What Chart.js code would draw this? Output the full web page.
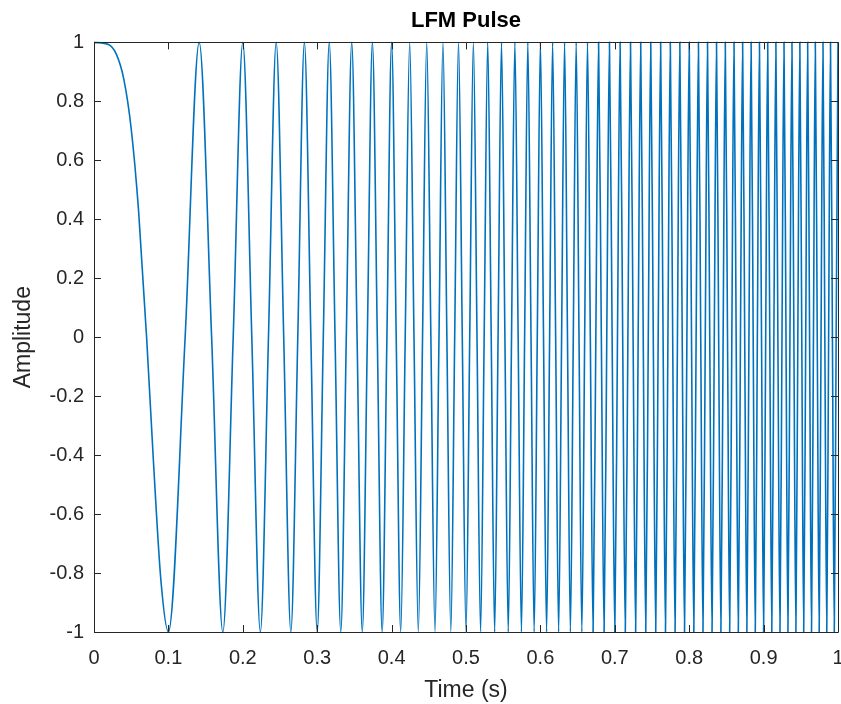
<!DOCTYPE html>
<html>
<head>
<meta charset="utf-8">
<script src="https://cdn.jsdelivr.net/npm/chart.js@4/dist/chart.umd.min.js"></script>
<style>
  html, body { margin: 0; padding: 0; background: #ffffff; }
  #wrap { width: 841px; height: 704px; }
</style>
</head>
<body>
<div id="wrap"><canvas id="chart" width="841" height="704"></canvas></div>
<script>
// LFM pulse: times (s) at which the waveform reaches +1, -1 and crosses 0
const crestTimes = [0, 0.1414, 0.2, 0.2449, 0.2828, 0.3162, 0.3464, 0.3742, 0.4, 0.4243,
  0.4472, 0.4690, 0.4899, 0.5099, 0.5292, 0.5477, 0.5657, 0.5831, 0.6, 0.6164,
  0.6325, 0.6481, 0.6633, 0.6782, 0.6928, 0.7071, 0.7211, 0.7348, 0.7483, 0.7616,
  0.7746, 0.7874, 0.8, 0.8124, 0.8246, 0.8367, 0.8485, 0.8602, 0.8718, 0.8832,
  0.8944, 0.9055, 0.9165, 0.9274, 0.9381, 0.9487, 0.9592, 0.9695, 0.9798, 0.9899, 1.0];

const troughTimes = [0.1, 0.1732, 0.2236, 0.2646, 0.3, 0.3317, 0.3606, 0.3873, 0.4123, 0.4359,
  0.4583, 0.4796, 0.5, 0.5196, 0.5385, 0.5568, 0.5745, 0.5916, 0.6083, 0.6245,
  0.6403, 0.6557, 0.6708, 0.6856, 0.7, 0.7141, 0.7280, 0.7416, 0.7550, 0.7681,
  0.7810, 0.7937, 0.8062, 0.8185, 0.8307, 0.8426, 0.8544, 0.8660, 0.8775, 0.8888,
  0.9, 0.9110, 0.9220, 0.9327, 0.9434, 0.9539, 0.9644, 0.9747, 0.9849, 0.9950];

const zeroTimes = [0.0707, 0.1225, 0.1581, 0.1871, 0.2121, 0.2345, 0.2550, 0.2739, 0.2915, 0.3082,
  0.3240, 0.3391, 0.3536, 0.3674, 0.3808, 0.3937, 0.4062, 0.4183, 0.4301, 0.4416,
  0.4528, 0.4637, 0.4743, 0.4848, 0.4950, 0.5050, 0.5148, 0.5244, 0.5339, 0.5431,
  0.5523, 0.5612, 0.5701, 0.5788, 0.5874, 0.5958, 0.6042, 0.6124, 0.6205, 0.6285,
  0.6364, 0.6442, 0.6519, 0.6595, 0.6671, 0.6745, 0.6819, 0.6892, 0.6964, 0.7036,
  0.7106, 0.7176, 0.7246, 0.7314, 0.7382, 0.7450, 0.7517, 0.7583, 0.7649, 0.7714,
  0.7778, 0.7842, 0.7906, 0.7969, 0.8031, 0.8093, 0.8155, 0.8216, 0.8276, 0.8337,
  0.8396, 0.8456, 0.8515, 0.8573, 0.8631, 0.8689, 0.8746, 0.8803, 0.8860, 0.8916,
  0.8972, 0.9028, 0.9083, 0.9138, 0.9192, 0.9247, 0.9301, 0.9354, 0.9407, 0.9460,
  0.9513, 0.9566, 0.9618, 0.9670, 0.9721, 0.9772, 0.9823, 0.9874, 0.9925, 0.9975];

// slow opening sweep of the pulse, before the first trough
const onsetTimes  = [0.02, 0.03, 0.04, 0.05, 0.06, 0.08, 0.09];
const onsetValues = [0.992, 0.960, 0.876, 0.707, 0.426, -0.426, -0.827];

const xTicks = [0, 0.1, 0.2, 0.3, 0.4, 0.5, 0.6, 0.7, 0.8, 0.9, 1];
const yTicks = [-1, -0.8, -0.6, -0.4, -0.2, 0, 0.2, 0.4, 0.6, 0.8, 1];

const points = []
  .concat(crestTimes.map(t => ({ x: t, y: 1 })))
  .concat(troughTimes.map(t => ({ x: t, y: -1 })))
  .concat(zeroTimes.map(t => ({ x: t, y: 0 })))
  .concat(onsetTimes.map((t, i) => ({ x: t, y: onsetValues[i] })))
  .sort((a, b) => a.x - b.x);

const FONT = '"Liberation Sans", Arial, Helvetica, sans-serif';
const INK = '#262626';

// box around the axes with inward tick marks
const axesBox = {
  id: 'axesBox',
  afterDatasetsDraw(chart) {
    const { ctx, chartArea: a, scales } = chart;
    const len = 7;
    ctx.save();
    ctx.strokeStyle = INK;
    ctx.lineWidth = 1;
    ctx.beginPath();
    ctx.rect(Math.round(a.left) + 0.5, Math.round(a.top) + 0.5,
             Math.round(a.right - a.left), Math.round(a.bottom - a.top));
    xTicks.forEach(v => {
      const px = Math.round(scales.x.getPixelForValue(v)) + 0.5;
      ctx.moveTo(px, a.bottom); ctx.lineTo(px, a.bottom - len);
      ctx.moveTo(px, a.top); ctx.lineTo(px, a.top + len);
    });
    yTicks.forEach(v => {
      const py = Math.round(scales.y.getPixelForValue(v)) + 0.5;
      ctx.moveTo(a.left, py); ctx.lineTo(a.left + len, py);
      ctx.moveTo(a.right, py); ctx.lineTo(a.right - len, py);
    });
    ctx.stroke();
    ctx.restore();
  }
};

new Chart(document.getElementById('chart'), {
  type: 'line',
  data: {
    datasets: [{
      data: points,
      borderColor: '#0072BD',
      borderWidth: 1.6,
      pointRadius: 0,
      fill: false,
      cubicInterpolationMode: 'monotone',
      clip: false
    }]
  },
  options: {
    responsive: false,
    animation: false,
    devicePixelRatio: 1,
    layout: { padding: { left: 0, right: 3, top: 0, bottom: 0 } },
    plugins: {
      legend: { display: false },
      tooltip: { enabled: false },
      title: {
        display: true,
        fullSize: false,
        text: 'LFM Pulse',
        color: '#000000',
        font: { family: FONT, size: 22, weight: 'bold' },
        padding: { top: 8, bottom: 8 }
      }
    },
    scales: {
      x: {
        type: 'linear',
        min: 0,
        max: 1,
        afterBuildTicks: s => { s.ticks = xTicks.map(v => ({ value: v })); },
        afterFit: s => { s.height = 72; s.paddingRight = 0; s.paddingLeft = 0; },
        grid: { display: false, drawTicks: false, tickLength: 0 },
        border: { display: false },
        ticks: {
          color: INK,
          font: { family: FONT, size: 20 },
          padding: 14,
          maxRotation: 0,
          autoSkip: false,
          callback: v => String(v)
        },
        title: {
          display: true,
          text: 'Time (s)',
          color: INK,
          font: { family: FONT, size: 23 },
          padding: { top: 2, bottom: 0 }
        }
      },
      y: {
        type: 'linear',
        min: -1,
        max: 1,
        afterBuildTicks: s => { s.ticks = yTicks.map(v => ({ value: v })); },
        afterFit: s => { s.width = 94; },
        grid: { display: false, drawTicks: false, tickLength: 0 },
        border: { display: false },
        ticks: {
          color: INK,
          font: { family: FONT, size: 20 },
          padding: 10,
          autoSkip: false,
          callback: v => String(v)
        },
        title: {
          display: true,
          text: 'Amplitude',
          color: INK,
          font: { family: FONT, size: 23 },
          padding: { top: 10, bottom: 0 }
        }
      }
    }
  },
  plugins: [axesBox]
});
</script>
</body>
</html>
